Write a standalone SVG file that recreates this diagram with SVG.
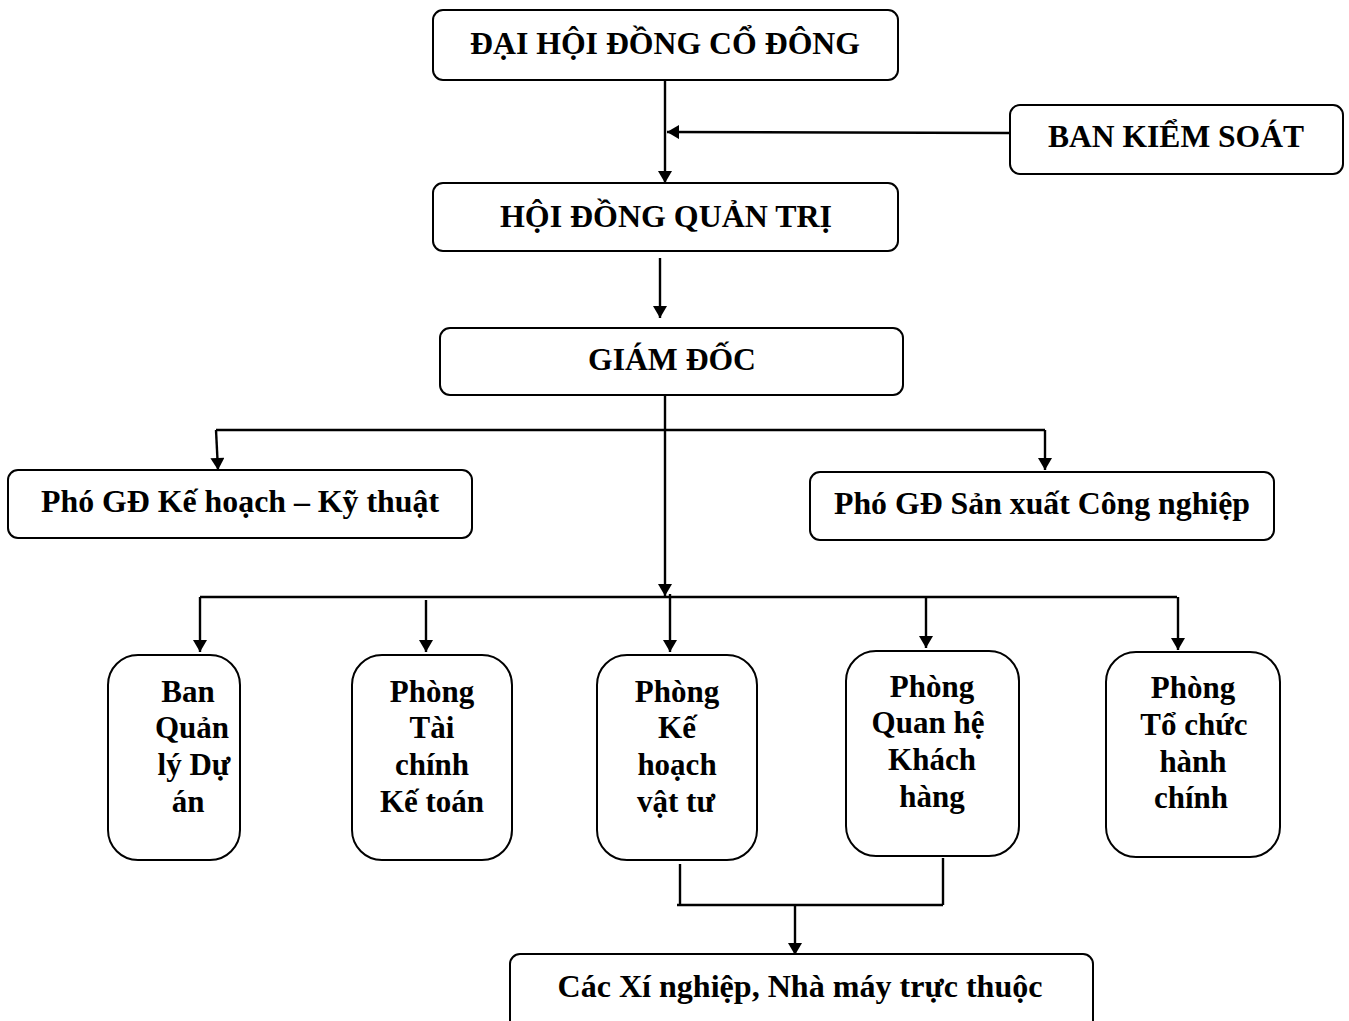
<svg xmlns="http://www.w3.org/2000/svg" width="1349" height="1021" viewBox="0 0 1349 1021">
<style>
.box{fill:#fff;stroke:#000;stroke-width:2}
.t{font-family:'Liberation Serif','Times New Roman','DejaVu Serif',serif;font-weight:700;font-size:31px;fill:#000;text-anchor:middle}
.c{fill:none;stroke:#000;stroke-width:2.4}
</style>
<defs>
<marker id="ah" viewBox="0 0 12 14" refX="12" refY="7" markerWidth="13" markerHeight="14" markerUnits="userSpaceOnUse" orient="auto">
<path d="M0,0 L12,7 L0,14 Z" fill="#000"/>
</marker>
</defs>
<rect width="1349" height="1021" fill="#fff"/>
<g id="connectors">
<line class="c" x1="665" y1="80" x2="665" y2="183" marker-end="url(#ah)"/>
<line class="c" x1="1010" y1="133" x2="667" y2="132" marker-end="url(#ah)"/>
<line class="c" x1="660" y1="258" x2="660" y2="318" marker-end="url(#ah)"/>
<line class="c" x1="665" y1="395" x2="665" y2="596" marker-end="url(#ah)"/>
<polyline class="c" points="216,430 1045,430"/>
<line class="c" x1="216" y1="430" x2="218" y2="470" marker-end="url(#ah)"/>
<line class="c" x1="1045" y1="430" x2="1045" y2="470" marker-end="url(#ah)"/>
<polyline class="c" points="200,597 1177,597"/>
<line class="c" x1="200" y1="597" x2="200" y2="652" marker-end="url(#ah)"/>
<line class="c" x1="426" y1="600" x2="426" y2="652" marker-end="url(#ah)"/>
<line class="c" x1="670" y1="594" x2="670" y2="652" marker-end="url(#ah)"/>
<line class="c" x1="926" y1="597" x2="926" y2="648" marker-end="url(#ah)"/>
<line class="c" x1="1178" y1="597" x2="1178" y2="650" marker-end="url(#ah)"/>
<polyline class="c" points="680,864 680,905"/>
<polyline class="c" points="943,858 943,905"/>
<polyline class="c" points="677,905 943,905"/>
<line class="c" x1="795" y1="905" x2="795" y2="955" marker-end="url(#ah)"/>
</g>
<g id="n-dhdcd"><rect class="box" x="433" y="10" width="465" height="70" rx="10"/><text class="t" x="665" y="54" textLength="390" lengthAdjust="spacingAndGlyphs">ĐẠI HỘI ĐỒNG CỔ ĐÔNG</text></g>
<g id="n-bks"><rect class="box" x="1010" y="105" width="333" height="69" rx="10"/><text class="t" x="1176" y="147" textLength="256" lengthAdjust="spacingAndGlyphs">BAN KIỂM SOÁT</text></g>
<g id="n-hdqt"><rect class="box" x="433" y="183" width="465" height="68" rx="10"/><text class="t" x="666" y="227" textLength="332" lengthAdjust="spacingAndGlyphs">HỘI ĐỒNG QUẢN TRỊ</text></g>
<g id="n-gd"><rect class="box" x="440" y="328" width="463" height="67" rx="10"/><text class="t" x="672" y="370" textLength="168" lengthAdjust="spacingAndGlyphs">GIÁM ĐỐC</text></g>
<g id="n-pgd1"><rect class="box" x="8" y="470" width="464" height="68" rx="10"/><text class="t" x="240" y="512" textLength="398" lengthAdjust="spacingAndGlyphs">Phó GĐ Kế hoạch – Kỹ thuật</text></g>
<g id="n-pgd2"><rect class="box" x="810" y="472" width="464" height="68" rx="10"/><text class="t" x="1042" y="514" textLength="416" lengthAdjust="spacingAndGlyphs">Phó GĐ Sản xuất Công nghiệp</text></g>
<g id="n-bql"><rect class="box" x="108" y="655" width="132" height="205" rx="30"/><text class="t" x="188" y="702">Ban</text><text class="t" x="192" y="738">Quản</text><text class="t" x="194" y="775">lý Dự</text><text class="t" x="188" y="812">án</text></g>
<g id="n-tckt"><rect class="box" x="352" y="655" width="160" height="205" rx="30"/><text class="t" x="432" y="702">Phòng</text><text class="t" x="432" y="738">Tài</text><text class="t" x="432" y="775">chính</text><text class="t" x="432" y="812">Kế toán</text></g>
<g id="n-khvt"><rect class="box" x="597" y="655" width="160" height="205" rx="30"/><text class="t" x="677" y="702">Phòng</text><text class="t" x="677" y="738">Kế</text><text class="t" x="677" y="775">hoạch</text><text class="t" x="676" y="812">vật tư</text></g>
<g id="n-qhkh"><rect class="box" x="846" y="651" width="173" height="205" rx="30"/><text class="t" x="932" y="697">Phòng</text><text class="t" x="928" y="733">Quan hệ</text><text class="t" x="932" y="770">Khách</text><text class="t" x="932" y="807">hàng</text></g>
<g id="n-tchc"><rect class="box" x="1106" y="652" width="174" height="205" rx="30"/><text class="t" x="1193" y="698">Phòng</text><text class="t" x="1194" y="735">Tổ chức</text><text class="t" x="1193" y="772">hành</text><text class="t" x="1191" y="808">chính</text></g>
<g id="n-xn"><rect class="box" x="510" y="954" width="583" height="80" rx="10"/><text class="t" x="800" y="997" textLength="485" lengthAdjust="spacingAndGlyphs">Các Xí nghiệp, Nhà máy trực thuộc</text></g>
</svg>
